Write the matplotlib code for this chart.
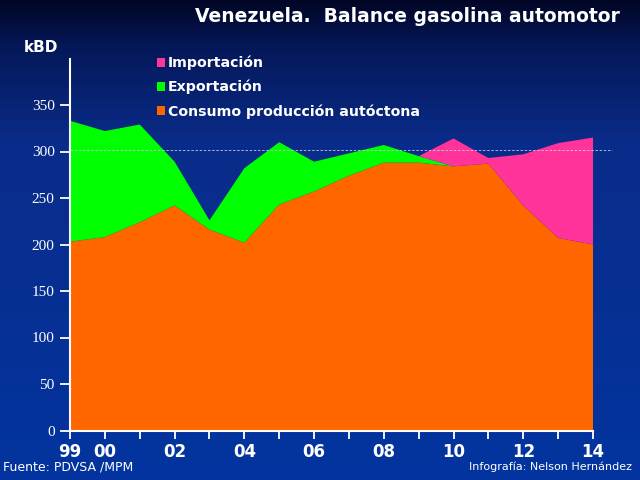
import numpy as np
import matplotlib
matplotlib.use("Agg")
import matplotlib.pyplot as plt

# datos (kBD)
years = np.arange(1999, 2015)
consumo = [203, 208, 224, 242, 216, 202, 243, 257, 274, 288, 288, 284, 287, 242, 207, 200]
exportacion = [130, 114, 105, 47, 10, 80, 67, 32, 24, 19, 7, 0, 0, 0, 0, 0]
importacion = [0, 0, 0, 0, 0, 0, 0, 0, 0, 0, 0, 30, 6, 55, 102, 115]
tick_labels = ["99", "00", "", "02", "", "04", "", "06", "", "08", "", "10", "", "12", "", "14"]

fig = plt.figure(figsize=(6.4, 4.8), dpi=100)

# fondo degradado azul
bg = fig.add_axes([0, 0, 1, 1], zorder=-10)
grad = np.linspace(0, 1, 256).reshape(-1, 1)
cmap = matplotlib.colors.LinearSegmentedColormap.from_list(
    "bg", [(0.0, "#010626"), (0.1, "#05185a"), (0.3, "#0a2c8a"), (1.0, "#03349f")])
bg.imshow(grad, aspect="auto", cmap=cmap, extent=[0, 1, 0, 1])
bg.axis("off")

ax = fig.add_axes([70 / 640, 1 - 430.5 / 480, 523 / 640, 372 / 480])
ax.set_facecolor("none")

polys = ax.stackplot(years, consumo, exportacion, importacion,
                     colors=["#ff6600", "#00ff00", "#ff3399"], linewidth=0)

ax.axhline(302, xmin=0, xmax=1.036, color="#c8c8e0", lw=0.6, ls=(0, (3, 2)), clip_on=False)

ax.set_xlim(1999, 2014)
ax.set_ylim(0, 400)
ax.set_yticks(np.arange(0, 351, 50))
ax.set_yticklabels([str(v) for v in range(0, 351, 50)], family="Liberation Serif",
                   fontsize=11, color="white")
ax.set_xticks(years)
ax.set_xticklabels(tick_labels, fontsize=12, fontweight="bold", color="white")

for s in ["top", "right"]:
    ax.spines[s].set_visible(False)
for s in ["left", "bottom"]:
    ax.spines[s].set_color("white")
    ax.spines[s].set_linewidth(1.5)
ax.tick_params(axis="y", colors="white", length=7, width=1.3, pad=4)
ax.tick_params(axis="x", colors="white", length=6, width=1.3, pad=3)

ax.legend([polys[2], polys[1], polys[0]],
          ["Importación", "Exportación", "Consumo producción autóctona"],
          loc="upper left", bbox_to_anchor=(144 / 640, 1 - 43 / 480),
          bbox_transform=fig.transFigure, frameon=False,
          handlelength=0.6, handleheight=0.6, handletextpad=0.2,
          labelspacing=0.68, prop={"weight": "bold", "size": 10.2}, labelcolor="white")

fig.text(620 / 640, 1 - 17 / 480, "Venezuela.  Balance gasolina automotor",
         ha="right", va="center", color="white", fontsize=13.5, fontweight="bold")
fig.text(24 / 640, 1 - 48 / 480, "kBD", ha="left", va="center", color="white",
         fontsize=11, fontweight="bold")
fig.text(3 / 640, 1 - 467 / 480, "Fuente: PDVSA /MPM", ha="left", va="center",
         color="white", fontsize=9)
fig.text(632 / 640, 1 - 467 / 480, "Infografía: Nelson Hernández", ha="right",
         va="center", color="white", fontsize=8)

fig.savefig("out.png", dpi=100)
